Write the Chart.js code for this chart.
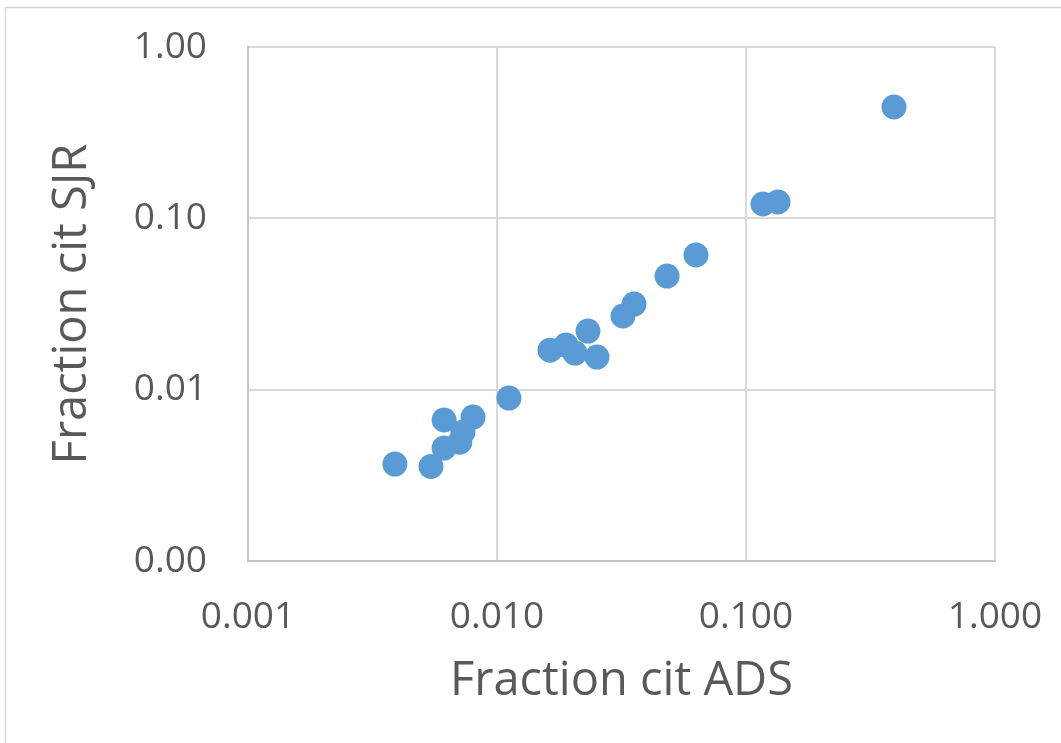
<!DOCTYPE html>
<html>
<head>
<meta charset="utf-8">
<script src="https://cdn.jsdelivr.net/npm/chart.js@4/dist/chart.umd.min.js"></script>
<style>
  html, body { margin: 0; padding: 0; background: #fff; overflow: hidden; }
  #wrap { width: 1061px; height: 743px; }
</style>
</head>
<body>
<div id="wrap"><canvas id="chart" width="1061" height="743"></canvas></div>
<script>
// fraction of citations, ADS (x) vs SJR (y)
const fracADS = [0.00389, 0.00543, 0.00613, 0.00613, 0.00709, 0.00730, 0.00801, 0.01117,
  0.01633, 0.01892, 0.02057, 0.02319, 0.02521, 0.03206, 0.03550, 0.04819, 0.06297,
  0.1170, 0.1344, 0.3929];
const fracSJR = [0.00368, 0.00356, 0.00665, 0.00456, 0.00494, 0.00566, 0.00692, 0.00893,
  0.0170, 0.0182, 0.01636, 0.02198, 0.01550, 0.02690, 0.0316, 0.0460, 0.0611,
  0.1212, 0.1245, 0.4463];
const xTicks = [0.001, 0.01, 0.1, 1];
const yTicks = [0.001, 0.01, 0.1, 1];

const points = fracADS.map((x, i) => ({ x: x, y: fracSJR[i] }));

// light frame round the whole chart, like the Excel chart area
const frame = {
  id: "frame",
  beforeDraw(chart) {
    const c = chart.ctx;
    c.save();
    c.strokeStyle = "#d9d9d9";
    c.lineWidth = 1.5;
    c.strokeRect(5.5, 7.5, 3000, 3000);
    c.restore();
  },
};

const tickFont = { family: "'Open Sans', sans-serif", size: 37 };
const titleFont = { family: "'Open Sans', sans-serif", size: 47 };

new Chart(document.getElementById("chart"), {
  type: "scatter",
  data: {
    datasets: [
      {
        label: "Fraction cit",
        data: points,
        backgroundColor: "#5b9bd5",
        borderColor: "#5b9bd5",
        pointRadius: 12.5,
        pointHoverRadius: 12.5,
        borderWidth: 0,
      },
    ],
  },
  options: {
    responsive: false,
    animation: false,
    events: [],
    layout: { padding: { top: 47, right: 66, left: 0, bottom: 0 } },
    plugins: { legend: { display: false }, tooltip: { enabled: false } },
    scales: {
      x: {
        type: "logarithmic",
        min: 0.001,
        max: 1,
        afterBuildTicks: (s) => { s.ticks = xTicks.map((v) => ({ value: v })); },
        afterFit: (s) => {
          s.height = 182;
          s.paddingLeft = 0;
          s.paddingRight = 0;
        },
        ticks: {
          padding: 34,
          color: "#595959",
          font: tickFont,
          maxRotation: 0,
          callback: (v) => Number(v).toFixed(3),
        },
        grid: { color: "#d9d9d9", lineWidth: 2, drawTicks: false },
        border: { color: "#c4c4c4", width: 2 },
        title: {
          display: true,
          text: "Fraction cit ADS",
          color: "#595959",
          font: titleFont,
          padding: { top: 0, bottom: 33 },
        },
      },
      y: {
        type: "logarithmic",
        min: 0.001,
        max: 1,
        afterBuildTicks: (s) => { s.ticks = yTicks.map((v) => ({ value: v })); },
        afterFit: (s) => {
          s.width = 248;
          s.paddingTop = 0;
          s.paddingBottom = 0;
        },
        ticks: {
          padding: 41,
          color: "#595959",
          font: tickFont,
          callback: (v) => Number(v).toFixed(2),
        },
        grid: { color: "#d9d9d9", lineWidth: 2, drawTicks: false },
        border: { color: "#c4c4c4", width: 2 },
        title: {
          display: true,
          text: "Fraction cit SJR",
          color: "#595959",
          font: titleFont,
          padding: { top: 44, bottom: 0 },
        },
      },
    },
  },
  plugins: [frame],
});
</script>
</body>
</html>
